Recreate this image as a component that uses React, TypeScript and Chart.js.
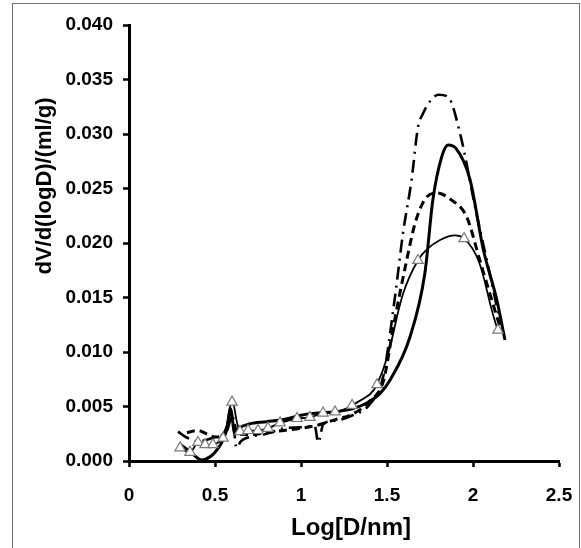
import React, { useEffect, useRef } from "react";
import { Chart, registerables } from "chart.js";

Chart.register(...registerables);

// Series 1: thin solid line with open triangle markers
const s1X = [0.297, 0.355, 0.401, 0.442, 0.488, 0.547, 0.599, 0.645, 0.692, 0.75, 0.808, 0.878, 0.977, 1.052, 1.128, 1.198, 1.297, 1.442, 1.68, 1.948, 2.145];
const s1Y = [0.0012, 0.0008, 0.0017, 0.0015, 0.0015, 0.0021, 0.0054, 0.0027, 0.0028, 0.0028, 0.003, 0.0035, 0.0039, 0.004, 0.0044, 0.0045, 0.0051, 0.007, 0.0184, 0.0204, 0.012];

// Series 2: thick solid line
const s2X = [0.3, 0.36, 0.42, 0.52, 0.57, 0.59, 0.615, 0.64, 0.7, 0.8, 0.9, 1.0, 1.1, 1.2, 1.3, 1.38, 1.46, 1.517, 1.634, 1.72, 1.767, 1.818, 1.855, 1.9, 1.983, 2.06, 2.138, 2.186];
const s2Y = [0.0015, 0.0008, 0.0001, 0.0012, 0.003, 0.0048, 0.0025, 0.003, 0.0034, 0.0036, 0.0038, 0.0042, 0.0044, 0.0045, 0.0048, 0.0053, 0.0062, 0.0074, 0.0114, 0.0172, 0.024, 0.0279, 0.029, 0.0287, 0.0258, 0.0194, 0.0148, 0.0111];

// Series 3: dashed line
const s3X = [0.337, 0.4, 0.45, 0.5, 0.55, 0.6, 0.63, 0.7, 0.8, 0.9, 1.0, 1.1, 1.2, 1.3, 1.4, 1.48, 1.537, 1.614, 1.663, 1.72, 1.789, 1.87, 1.963, 2.04, 2.12, 2.157];
const s3Y = [0.0026, 0.0028, 0.0025, 0.0022, 0.0025, 0.004, 0.0025, 0.0024, 0.0026, 0.0028, 0.003, 0.0033, 0.0038, 0.0043, 0.0055, 0.0074, 0.0123, 0.0184, 0.0218, 0.024, 0.0246, 0.024, 0.0224, 0.0184, 0.0142, 0.0123];

// Series 4: dash-dot line
const s4X = [0.285, 0.33, 0.4, 0.5, 0.57, 0.6, 0.625, 0.65, 0.7, 0.8, 0.9, 1.0, 1.08, 1.1, 1.13, 1.2, 1.3, 1.4, 1.477, 1.546, 1.593, 1.643, 1.68, 1.71, 1.76, 1.8, 1.855, 1.924, 2.02, 2.1, 2.16];
const s4Y = [0.0027, 0.0022, 0.0018, 0.0022, 0.0028, 0.0042, 0.0012, 0.0018, 0.0022, 0.0025, 0.003, 0.0031, 0.0032, 0.0017, 0.0034, 0.0037, 0.0042, 0.0052, 0.0077, 0.015, 0.0209, 0.0258, 0.0306, 0.0319, 0.0332, 0.0336, 0.0334, 0.0301, 0.0227, 0.017, 0.0125];

const xTicks = [0, 0.5, 1, 1.5, 2, 2.5];
const yTicks = [0, 0.005, 0.01, 0.015, 0.02, 0.025, 0.03, 0.035, 0.04];

const xTitle = "Log[D/nm]";
const yTitle = "dV/d(logD)/(ml/g)";

const FONT = "'Liberation Sans', Arial, sans-serif";

function pts(xs: number[], ys: number[]) {
  return xs.map((x, i) => ({ x, y: ys[i] }));
}

const titlePlugin = {
  id: "axisTitles",
  afterDraw(chart: any) {
    const ctx = chart.ctx;
    const area = chart.chartArea;
    ctx.save();
    ctx.fillStyle = "#000";
    ctx.textAlign = "center";
    ctx.textBaseline = "middle";
    ctx.font = `bold 22px ${FONT}`;
    ctx.translate(45, area.top + 161);
    ctx.rotate(-Math.PI / 2);
    ctx.fillText(yTitle, 0, 0);
    ctx.restore();
    ctx.save();
    ctx.fillStyle = "#000";
    ctx.textAlign = "center";
    ctx.textBaseline = "middle";
    ctx.font = `bold 24px ${FONT}`;
    ctx.fillText(xTitle, (area.left + area.right) / 2 + 7, area.bottom + 67);
    ctx.restore();
  },
};

export default function App() {
  const ref = useRef<HTMLCanvasElement>(null);
  useEffect(() => {
    if (!ref.current) return;
    const chart = new Chart(ref.current, {
      type: "line",
      data: {
        datasets: [
          {
            data: pts(s1X, s1Y),
            borderColor: "#000",
            borderWidth: 1.8,
            tension: 0.4,
            pointStyle: "triangle",
            pointRadius: 6,
            pointBackgroundColor: "#fff",
            pointBorderColor: "#7a7a7a",
            pointBorderWidth: 1.2,
            order: 0,
          },
          {
            data: pts(s2X, s2Y),
            borderColor: "#000",
            borderWidth: 3,
            cubicInterpolationMode: "monotone",
            pointRadius: 0,
            order: 1,
          },
          {
            data: pts(s3X, s3Y),
            borderColor: "#000",
            borderWidth: 3,
            borderDash: [8, 5],
            cubicInterpolationMode: "monotone",
            pointRadius: 0,
            order: 2,
          },
          {
            data: pts(s4X, s4Y),
            borderColor: "#000",
            borderWidth: 2.6,
            borderDash: [13, 6, 2, 6],
            cubicInterpolationMode: "monotone",
            pointRadius: 0,
            order: 3,
          },
        ],
      },
      options: {
        animation: false,
        responsive: false,
        devicePixelRatio: 1,
        layout: { autoPadding: false, padding: { left: 0, top: 25, right: 22, bottom: 0 } },
        plugins: { legend: { display: false }, tooltip: { enabled: false } },
        scales: {
          x: {
            type: "linear",
            min: 0,
            max: 2.5,
            afterBuildTicks: (scale: any) => {
              scale.ticks = xTicks.map((v) => ({ value: v }));
            },
            afterFit: (scale: any) => {
              scale.height = 87;
              scale.paddingLeft = 0;
              scale.paddingRight = 0;
            },
            ticks: {
              color: "#000",
              font: { family: FONT, size: 19, weight: "bold" },
              padding: 17,
              maxRotation: 0,
              callback: (v: any) => String(v),
            },
            grid: { display: true, drawOnChartArea: false, drawTicks: true, tickLength: 6, tickColor: "#000", tickWidth: 2.5 },
            border: { display: true, color: "#000", width: 3 },
          },
          y: {
            type: "linear",
            min: 0,
            max: 0.04,
            afterBuildTicks: (scale: any) => {
              scale.ticks = yTicks.map((v) => ({ value: v }));
            },
            afterFit: (scale: any) => {
              scale.width = 129;
              scale.paddingTop = 0;
              scale.paddingBottom = 0;
            },
            ticks: {
              color: "#000",
              font: { family: FONT, size: 19, weight: "bold" },
              padding: 10,
              callback: (v: any) => Number(v).toFixed(3),
            },
            grid: { display: true, drawOnChartArea: false, drawTicks: true, tickLength: 6, tickColor: "#000", tickWidth: 2.5 },
            border: { display: true, color: "#000", width: 3 },
          },
        },
      },
      plugins: [titlePlugin],
    });
    return () => chart.destroy();
  }, []);

  return (
    <div style={{ position: "fixed", left: 0, top: 0, width: 581, height: 548, overflow: "hidden", background: "#fff" }}>
      <div
        style={{
          position: "absolute",
          left: 12,
          top: 3,
          width: 568,
          height: 600,
          boxSizing: "border-box",
          border: "1px solid #707070",
        }}
      />
      <canvas ref={ref} width={581} height={548} style={{ position: "absolute", left: 0, top: 0 }} />
    </div>
  );
}
